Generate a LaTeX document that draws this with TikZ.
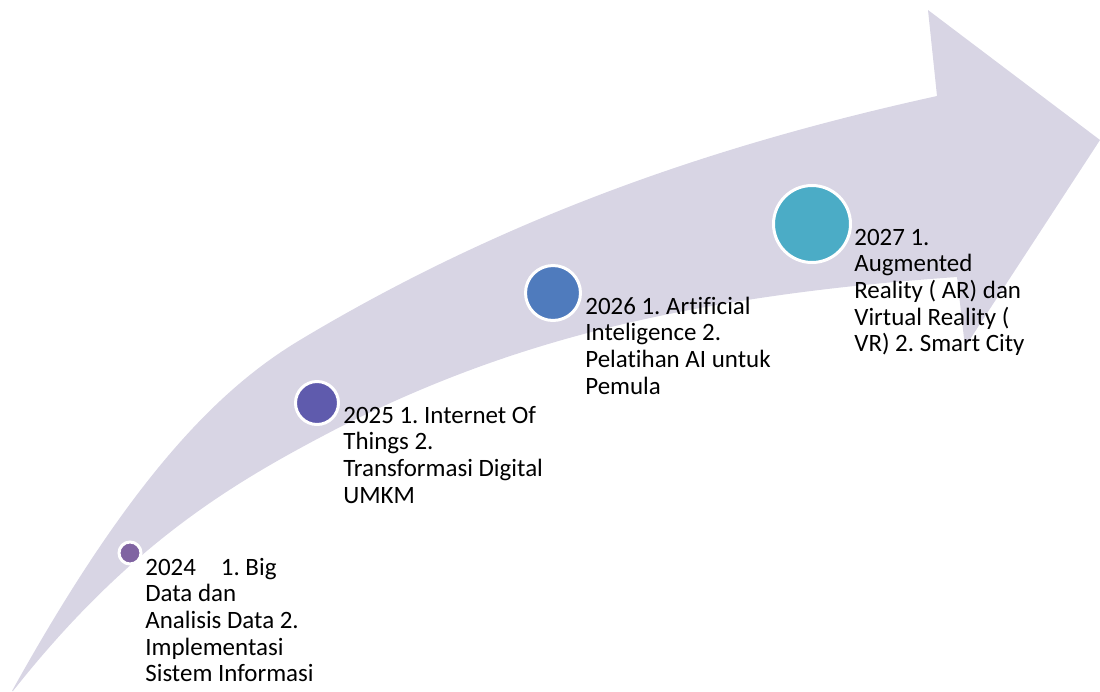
\documentclass[tikz,border=0pt]{standalone}
\usepackage{fontspec}
\setmainfont{Carlito}[Ligatures=CommonOff]
\usepackage{tikz}
\frenchspacing
\definecolor{band}{HTML}{D8D5E4}
\definecolor{dotA}{HTML}{8064A2}
\definecolor{dotB}{HTML}{5F5BAD}
\definecolor{dotC}{HTML}{4F7BBD}
\definecolor{dotD}{HTML}{4BACC6}
\newcommand{\notelines}[1]{\parbox[t]{6cm}{#1}}
\tikzset{
  dot/.style={circle, fill=#1, draw=white, line width=0.06cm, inner sep=0pt},
  note/.style={anchor=base west, inner sep=0pt, text=black,
               font=\fontsize{14.2}{15.2}\selectfont}
}

\begin{document}
\begin{tikzpicture}[x=0.02cm, y=-0.02cm]

\useasboundingbox (0,0) rectangle (1100,691);

% curved arrow
\fill[band] (12,691) .. controls (132,475) and (220,388) .. (300,340)
  .. controls (520,208) and (737,140) .. (937,96)
  -- (928,10) -- (1100,140) -- (965,347) -- (957,277)
  .. controls (657,298) and (490,352) .. (340,427)
  .. controls (240,479) and (133,539) .. (13,691) -- cycle;

% milestones
\node[dot=dotA, minimum size=0.44cm] (d24) at (130,553) {};
\node[dot=dotB, minimum size=0.86cm] (d25) at (317,403) {};
\node[dot=dotC, minimum size=1.10cm] (d26) at (553,293) {};
\node[dot=dotD, minimum size=1.54cm] (d27) at (812,224) {};

\node[note] (t24) at (145,575) {\notelines{2024\hspace{1em}1. Big\\Data dan\\Analisis Data 2.\\Implementasi\\Sistem Informasi}};
\node[note] (t25) at (343,423) {\notelines{2025 1. Internet Of\\Things 2.\\Transformasi Digital\\UMKM}};
\node[note] (t26) at (585,314) {\notelines{2026 1. Artificial\\Inteligence 2.\\Pelatihan AI untuk\\Pemula}};
\node[note] (t27) at (854,245) {\notelines{2027 1.\\Augmented\\Reality ( AR) dan\\Virtual Reality (\\VR) 2. Smart City}};

\end{tikzpicture}
\end{document}
